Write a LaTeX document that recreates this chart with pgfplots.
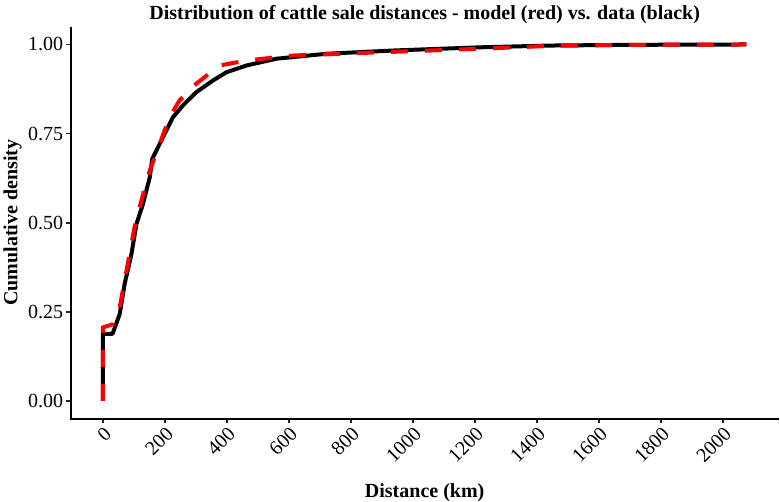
\documentclass[border=0pt]{standalone}
\usepackage{pgfplots}
\pgfplotsset{compat=1.18}
\usepackage{fontspec}
\setmainfont{Liberation Serif}

% empirical CDF of the data (black)
\pgfplotstableread{
x y
0 0
0 0.188
31 0.188
54 0.243
70 0.328
92 0.412
108 0.496
129 0.552
151 0.627
159 0.679
183 0.721
226 0.796
258 0.829
301 0.866
355 0.899
398 0.922
463 0.941
559 0.960
721 0.974
935 0.983
1215 0.992
1441 0.997
1700 0.999
2075 1.000
}\datacdf

% model CDF (red)
\pgfplotstableread{
x y
0 0
0 0.206
32 0.215
54 0.262
70 0.337
86 0.412
102 0.487
124 0.562
151 0.646
183 0.721
215 0.796
247 0.843
301 0.890
376 0.941
463 0.955
612 0.969
828 0.976
1215 0.988
1441 0.996
1700 0.999
2075 1.000
}\modelcdf

\begin{document}
\begin{tikzpicture}
\useasboundingbox (-53pt,-62.5pt) rectangle (532pt,314pt);
\begin{axis}[
    at={(0pt,0pt)}, anchor=south west,
    scale only axis,
    width=531pt,
    height=294pt,
    xmin=-104, xmax=2179,
    ymin=-0.05, ymax=1.05,
    axis x line*=bottom,
    axis y line*=left,
    axis line style={line width=1.5pt, shorten <=-0.75pt},
    tick align=outside,
    major tick length=3.5pt,
    tick style={line width=1.3pt, color=black!85},
    xtick={0,200,...,2000},
    xticklabels={0,200,400,600,800,1000,1200,1400,1600,1800,2000},
    ytick={0,0.25,0.5,0.75,1},
    yticklabels={0.00,0.25,0.50,0.75,1.00},
    ticklabel style={font=\fontsize{15}{18}\selectfont},
    xticklabel style={rotate=45, anchor=north east, inner sep=1pt},
    yticklabel style={inner sep=2pt},
    title={Distribution of cattle sale distances - model (red) vs. data (black)},
    title style={at={(0.5,1)}, anchor=base, yshift=-1pt, font=\bfseries\fontsize{15}{18}\selectfont},
    xlabel={Distance (km)},
    xlabel style={at={(0.5,0)}, anchor=base, yshift=-59pt, font=\bfseries\fontsize{15}{18}\selectfont},
    ylabel={Cumulative density},
    ylabel style={at={(0,0.5)}, anchor=base, yshift=40pt, font=\bfseries\fontsize{15}{18}\selectfont},
    clip=false,
]
\addplot[black, line width=3pt, line join=round] table[x=x, y=y] {\datacdf};
\addplot[red, line width=3pt, dash pattern=on 12.75pt off 12.75pt] table[x=x, y=y] {\modelcdf};
\end{axis}
\end{tikzpicture}
\end{document}
